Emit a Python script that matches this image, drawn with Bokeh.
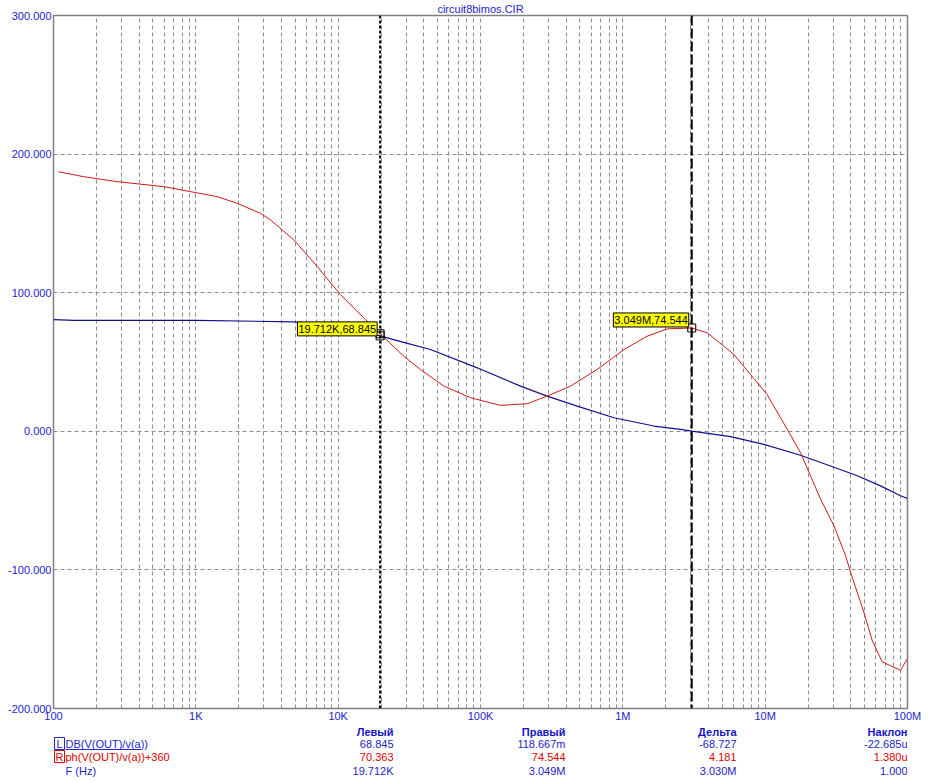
from bokeh.plotting import figure
from bokeh.models import FixedTicker, Label, Span, PrintfTickFormatter, Range1d
from bokeh.layouts import column
from bokeh.core.properties import value
from bokeh.embed import file_html
from bokeh.resources import INLINE

# ---- data ----
freq_db = [100, 141, 1000, 4850, 10000, 14000, 19712, 28000, 44500, 94800, 191000,
           294000, 478000, 866000, 1650000, 2540000, 3049000, 5710000, 9800000,
           17700000, 28800000, 44400000, 64600000, 89300000, 100000000]
db_vals = [80.6, 80.1, 80.0, 79.0, 76.5, 73.0, 68.845, 64.5, 59.0, 45.8, 32.6,
           25.4, 18.2, 9.8, 3.8, 1.4, 0.119, -3.8, -9.4,
           -17.3, -25.0, -32.1, -39.4, -46.5, -48.5]

freq_ph = [108, 163, 281, 596, 918, 1413, 1950, 2844, 3350, 4880, 7120, 10380, 15560, 19712,
           28900, 37900, 55300, 85200, 138000, 213000, 294000, 429000, 660000, 1020000,
           1480000, 2050000, 3049000,
           3920000, 5130000, 6030000, 7890000, 10300000, 14300000, 17700000, 24500000,
           30400000, 36700000, 39800000, 49300000, 56500000, 66400000, 89300000, 100000000]
ph_vals = [187.3, 183.7, 180.1, 176.5, 172.9, 169.3, 164.5, 157.3, 152.5, 138.1, 118.9, 98.6, 80.6, 70.363,
           54.2, 44.6, 32.6, 24.2, 18.7, 19.9, 25.4, 32.6, 44.6, 59.0,
           68.6, 73.9, 74.544,
           71.0, 61.4, 55.4, 41.0, 26.6, 1.4, -15.3, -48.9,
           -68.1, -89.7, -101.7, -130.4, -150.9, -166.4, -172.4, -164.0]

cursor_freqs = [19712, 3049000]
cursor_db = [68.845, 0.119]
cursor_ph = [70.363, 74.544]
cursor_tags = ["19.712K,68.845", "3.049M,74.544"]
cursor_tag_values = [68.845, 74.544]
cursor_dashes = ["3 2", "10 3"]

x_major = [100, 1000, 10000, 100000, 1000000, 10000000, 100000000]
x_labels = ["100", "1K", "10K", "100K", "1M", "10M", "100M"]
y_ticks = [-200, -100, 0, 100, 200, 300]

title_text = "circuit8bimos.CIR"
table_headers = ["Левый", "Правый", "Дельта", "Наклон"]
row_names = ["DB(V(OUT)/v(a))", "ph(V(OUT)/v(a))+360", "F (Hz)"]
row_tags = ["L", "R", ""]
row_db = ["68.845", "118.667m", "-68.727", "-22.685u"]
row_ph = ["70.363", "74.544", "4.181", "1.380u"]
row_f = ["19.712K", "3.049M", "3.030M", "1.000"]

FONT = "Liberation Sans"
BLUE_TXT = "#2424c8"
RED_TXT = "#e00000"
GRID = "#8c8c8c"

W = 934
FL, FR = 53, 907  # frame edges in page pixels
p = figure(width=W, height=724, x_axis_type="log",
           x_range=Range1d(100, 1e8), y_range=Range1d(-200, 300),
           output_backend="svg", toolbar_location=None,
           min_border_left=FL, min_border_right=W - FR, min_border_top=15, min_border_bottom=14)

p.title.text = title_text
p.title.align = "center"
p.title.text_font = FONT
p.title.text_font_size = "11px"
p.title.text_font_style = "normal"
p.title.text_color = BLUE_TXT
p.title.standoff = 1
p.title.offset = 0

p.outline_line_color = "#808080"
p.outline_line_width = 1.5
p.background_fill_color = "white"
p.border_fill_color = "white"

minor = [d * k for d in x_major[:-1] for k in range(2, 10)]
p.xaxis.ticker = FixedTicker(ticks=x_major, minor_ticks=minor)
p.xaxis.major_label_overrides = {t: l for t, l in zip(x_major, x_labels)}
p.yaxis.ticker = FixedTicker(ticks=y_ticks)
p.yaxis.formatter = PrintfTickFormatter(format="%.3f")

for ax in (p.xaxis[0], p.yaxis[0]):
    ax.axis_line_color = None
    ax.major_tick_out = 0
    ax.major_tick_in = 0
    ax.minor_tick_out = 0
    ax.minor_tick_in = 0
    ax.major_label_text_font = FONT
    ax.major_label_text_font_size = "11px"
    ax.major_label_text_color = BLUE_TXT
p.yaxis.major_label_standoff = 2
p.xaxis.major_label_standoff = 1

p.xgrid.grid_line_color = GRID
p.xgrid.grid_line_dash = "4 3"
p.xgrid.minor_grid_line_color = GRID
p.xgrid.minor_grid_line_dash = "4 3"
p.ygrid.grid_line_color = GRID
p.ygrid.grid_line_dash = "4 3"

p.line(freq_db, db_vals, line_color="#10108c", line_width=1.2)
p.line(freq_ph, ph_vals, line_color="#d01818", line_width=1)

for f, dash in zip(cursor_freqs, cursor_dashes):
    p.add_layout(Span(location=f, dimension="height", line_color="black",
                      line_width=2, line_dash=dash))

p.scatter([cursor_freqs[0], cursor_freqs[0], cursor_freqs[1]],
          [cursor_db[0], cursor_ph[0], cursor_ph[1]],
          marker="square", size=8, fill_color=None, line_color="black", line_width=1)

for f, v, t_, yo in zip(cursor_freqs, cursor_tag_values, cursor_tags, [7, 8]):
    p.add_layout(Label(x=f, y=v, text=t_, text_align="right", text_baseline="middle",
                       x_offset=-3, y_offset=yo, text_font=FONT, text_font_size="11px",
                       text_color="black", background_fill_color="#ffff00",
                       border_line_color="black", border_line_width=1, padding=1))

# ---- cursor table below the chart (second figure; its frame is aligned with the
# chart's frame, so the x range is set to page pixels FL..FR) ----
TH = 58
t = figure(width=W, height=TH, x_range=Range1d(FL, FR), y_range=Range1d(TH, 0),
           output_backend="svg", toolbar_location=None,
           min_border_left=FL, min_border_right=W - FR,
           min_border_top=0, min_border_bottom=0)
t.axis.visible = False
t.grid.visible = False
t.outline_line_color = None
t.background_fill_color = "white"
t.border_fill_color = "white"

col_x = [393, 565, 736, 907]
header_y = 7
row_y = [19, 32, 46]
name_x = 65
tag_x = 59

t.text(x=col_x, y=[header_y] * 4, text=table_headers, text_align="right",
       text_baseline="middle", text_font=value(FONT), text_font_size="11px",
       text_font_style="bold", text_color="#1414c8")

row_values = [row_db, row_ph, row_f]
row_colors = [BLUE_TXT, RED_TXT, BLUE_TXT]
for ry, name, tag, vals, col in zip(row_y, row_names, row_tags, row_values, row_colors):
    t.text(x=[name_x], y=[ry], text=[name], text_align="left", text_baseline="middle",
           text_font=value(FONT), text_font_size="11px", text_color=col)
    if tag:
        t.rect(x=[tag_x], y=[ry], width=10, height=12, fill_color=None,
               line_color=col, line_width=1)
        t.text(x=[tag_x], y=[ry], text=[tag], text_align="center", text_baseline="middle",
               text_font=value(FONT), text_font_size="11px", text_color=col)
    t.text(x=col_x, y=[ry] * 4, text=vals, text_align="right", text_baseline="middle",
           text_font=value(FONT), text_font_size="11px", text_color=col)

# underline of the selected (left-axis) expression
t.segment(x0=[name_x], y0=[row_y[0] + 6], x1=[name_x + 76], y1=[row_y[0] + 6],
          line_color=BLUE_TXT, line_width=1)

layout = column(p, t, spacing=0)
open("out.html", "w").write(file_html(layout, INLINE))
